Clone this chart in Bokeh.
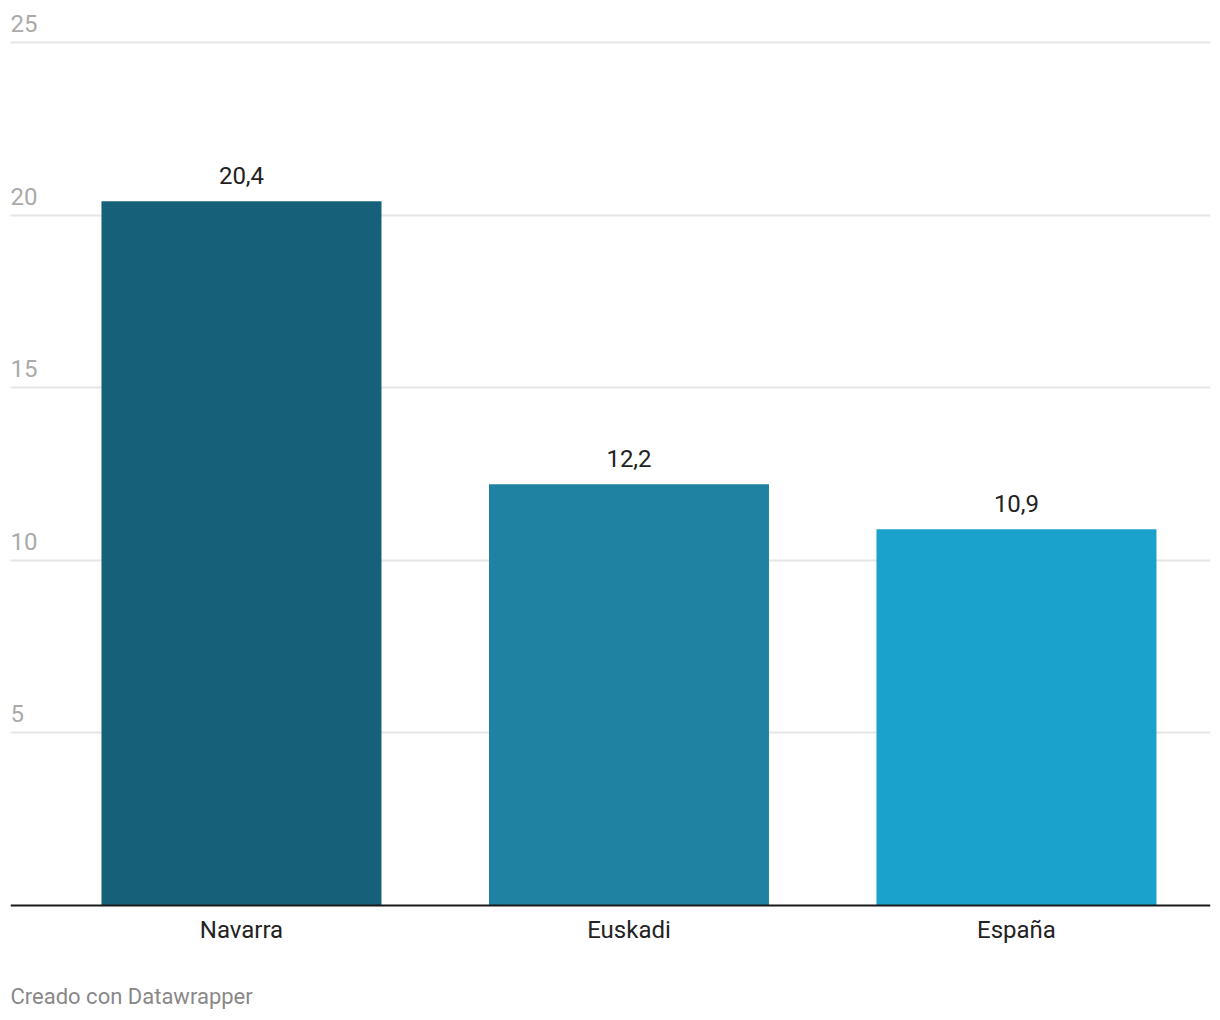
from bokeh.plotting import figure
from bokeh.models import ColumnDataSource, Range1d, FixedTicker, Span
from bokeh.core.properties import value
from bokeh.embed import file_html
from bokeh.resources import INLINE

categories = ["Navarra", "Euskadi", "España"]
values = [20.4, 12.2, 10.9]
value_labels = ["20,4", "12,2", "10,9"]
bar_colors = ["#176079", "#1f82a2", "#1aa2cd"]
y_ticks = [5, 10, 15, 20, 25]
y_tick_labels = ["5", "10", "15", "20", "25"]
footer = "Creado con Datawrapper"

FONT = "Roboto"
positions = list(range(len(categories)))

x_start, x_end = -0.5961, 2.5007
p = figure(width=1220, height=1020, output_backend="svg", toolbar_location=None,
           x_range=Range1d(x_start, x_end), y_range=Range1d(-3.331, 26.217),
           min_border_left=10, min_border_right=10, min_border_top=0,
           min_border_bottom=0)
p.outline_line_color = None
p.background_fill_color = "white"
p.border_fill_color = "white"
p.xaxis.visible = False
p.yaxis.visible = False
p.xgrid.visible = False
p.ygrid[0].ticker = FixedTicker(ticks=y_ticks)
p.ygrid[0].grid_line_color = "#e5e5e5"
p.ygrid[0].grid_line_width = 2

src = ColumnDataSource(dict(x=positions, top=values, base=[0] * len(values),
                            color=bar_colors, lab=value_labels, cat=categories))
p.vbar(x="x", top="top", bottom=0, width=0.7226, color="color", line_color=None, source=src)

p.text(x="x", y="top", text="lab", source=src, text_align="center",
       text_baseline="alphabetic", y_offset=-26, text_font=value(FONT),
       text_font_size="24px", text_color="#222222")

p.text(x="x", y="base", text="cat", source=src, text_align="center",
       text_baseline="alphabetic", y_offset=24, text_font=value(FONT),
       text_font_size="24px", text_color="#222222")

tick_src = ColumnDataSource(dict(x=[x_start] * len(y_ticks), y=y_ticks, t=y_tick_labels))
p.text(x="x", y="y", text="t", source=tick_src, text_align="left",
       text_baseline="alphabetic", y_offset=-19, text_font=value(FONT),
       text_font_size="24px", text_color="#aaaaaa")

foot_src = ColumnDataSource(dict(x=[x_start], y=[0], t=[footer]))
p.text(x="x", y="y", text="t", source=foot_src, text_align="left",
       text_baseline="alphabetic", y_offset=91, text_font=value(FONT),
       text_font_size="22px", text_color="#888888")

p.add_layout(Span(location=0, dimension="width", line_color="#1a1a1a", line_width=2))

open("out.html", "w").write(file_html(p, INLINE))
